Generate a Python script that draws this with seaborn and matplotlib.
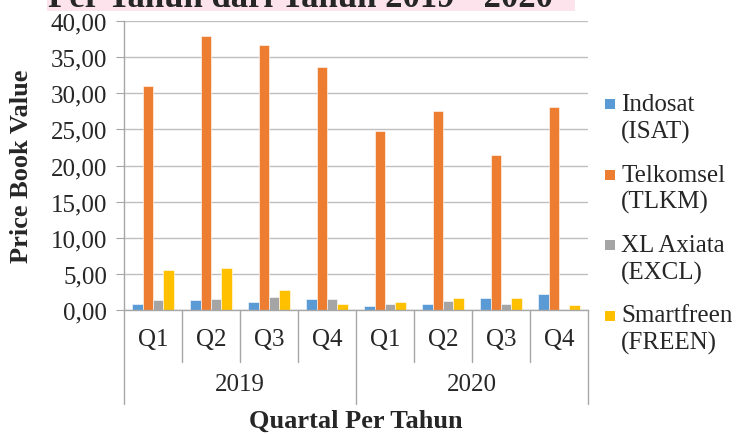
import matplotlib
matplotlib.use("Agg")
import matplotlib.pyplot as plt
import matplotlib.transforms as mtransforms
from matplotlib.patches import Rectangle
from matplotlib.ticker import FuncFormatter, MultipleLocator
import pandas as pd
import seaborn as sns

# data (Price Book Value per kuartal)
tahun = ["2019", "2020"]
kuartal = ["Q1", "Q2", "Q3", "Q4"]
emiten = ["Indosat\n(ISAT)", "Telkomsel\n(TLKM)", "XL Axiata\n(EXCL)", "Smartfreen\n(FREEN)"]

isat = [0.85, 1.45, 1.15, 1.55, 0.55, 0.85, 1.70, 2.15]
tlkm = [31.0, 37.9, 36.7, 33.6, 24.8, 27.5, 21.5, 28.1]
excl = [1.45, 1.55, 1.85, 1.55, 0.85, 1.30, 0.85, 0.0]
freen = [5.60, 5.75, 2.75, 0.85, 1.15, 1.70, 1.60, 0.70]

warna = ["#5B9BD5", "#ED7D31", "#A5A5A5", "#FFC000"]

periode = [f"{t} {q}" for t in tahun for q in kuartal]
rows = []
for nama, nilai in zip(emiten, [isat, tlkm, excl, freen]):
    for p, v in zip(periode, nilai):
        rows.append({"periode": p, "emiten": nama, "pbv": v})
df = pd.DataFrame(rows)

sns.set_style("white")
plt.rcParams["font.family"] = ["Liberation Serif", "DejaVu Serif"]

fig = plt.figure(figsize=(7.41, 4.35), dpi=100)
ax = fig.add_axes([124 / 741, 1 - 311 / 435, (588 - 124) / 741, (311 - 22) / 435])

sns.barplot(data=df, x="periode", y="pbv", hue="emiten", order=periode,
            hue_order=emiten, palette=warna, width=0.72, saturation=1, ax=ax,
            edgecolor="white", linewidth=0.4, legend=False)

ax.set_ylim(0, 40)
ax.set_xlim(-0.5, len(periode) - 0.5)
ax.yaxis.set_major_locator(MultipleLocator(5))
ax.yaxis.set_major_formatter(FuncFormatter(lambda v, _: f"{v:.2f}".replace(".", ",")))
ax.grid(axis="y", color="#BFBFBF", linewidth=1.0)
ax.set_axisbelow(True)
for s in ["top", "right"]:
    ax.spines[s].set_visible(False)
for s in ["left", "bottom"]:
    ax.spines[s].set_color("#A6A6A6")
    ax.spines[s].set_linewidth(1.0)
ax.tick_params(axis="y", labelsize=18, length=6, color="#A6A6A6", pad=6, left=True)
ax.tick_params(axis="x", bottom=False, labelbottom=False)
ax.set_xlabel("")
ax.set_ylabel("")

# label sumbu x bertingkat (kuartal & tahun)
tr = mtransforms.blended_transform_factory(ax.transData, ax.transAxes)
for i, p in enumerate(periode):
    ax.text(i, -0.10, p.split()[1], transform=tr, ha="center", va="center", fontsize=18)
for j, t in enumerate(tahun):
    ax.text(j * 4 + 1.5, -0.255, t, transform=tr, ha="center", va="center", fontsize=18)
for k in range(len(periode) + 1):
    bawah = -0.325 if k % 4 == 0 else -0.18
    ax.plot([k - 0.5, k - 0.5], [0, bawah], transform=tr, color="#A6A6A6",
            linewidth=1.0, clip_on=False)

fig.text(356 / 741, 1 - 421 / 435, "Quartal Per Tahun", ha="center", va="center",
         fontsize=19, fontweight="bold")
fig.text(22 / 741, 1 - 166 / 435, "Price Book Value", ha="center", va="center",
         rotation=90, fontsize=19, fontweight="bold")

# judul terpotong di atas, dengan latar merah muda
fig.add_artist(Rectangle((47 / 741, 1 - 12 / 435), (575 - 47) / 741, 12 / 435,
                         transform=fig.transFigure, facecolor="#FDE4EC",
                         edgecolor="none", zorder=0))
fig.text(48 / 741, 1 - 7 / 435, "Per Tahun dari Tahun 2019 - 2020", ha="left",
         va="baseline", fontsize=25, fontweight="bold", zorder=2)

# legenda di kanan (kotak sejajar baris pertama)
for n, (nama, c) in enumerate(zip(emiten, warna)):
    y = 105 + n * 70.5
    fig.add_artist(Rectangle((605 / 741, 1 - (y + 5) / 435), 10 / 741, 10 / 435,
                             transform=fig.transFigure, facecolor=c, edgecolor="none"))
    fig.text(621 / 741, 1 - (y - 11) / 435, nama, ha="left", va="top", fontsize=18,
             linespacing=1.25)

fig.savefig("out.png", dpi=100)
